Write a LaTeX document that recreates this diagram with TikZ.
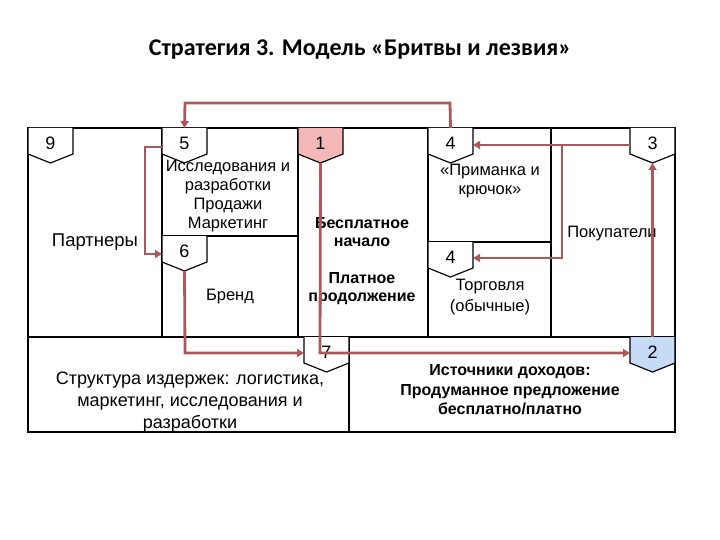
\documentclass[tikz,border=0pt]{standalone}
\usepackage{fontspec}
\setmainfont{Liberation Sans}
\newfontfamily\titlefont{Carlito}
\usetikzlibrary{arrows.meta,calc}
\definecolor{arr}{HTML}{A85A5A}
\definecolor{redb}{HTML}{F4B8B8}
\definecolor{blueb}{HTML}{C6DCF6}
\tikzset{
  frame/.style={draw=black,line width=1.4pt},
  link/.style={draw=arr,line width=2.8pt,-{Triangle[length=7pt,width=8pt]}},
  txt/.style={font=\fontsize{16.5}{19}\selectfont,align=center,inner sep=0pt},
  btxt/.style={font=\bfseries\fontsize{16}{18}\selectfont,align=center,inner sep=0pt},
}
\newcommand{\mybadge}[5]{% name, x, y, fill, label
  \fill[#4] (#2,#3) -- ++(45,0) -- ++(0,26) -- ++(-22.5,9) -- ++(-22.5,-9) -- cycle;
  \draw[line width=1.2pt] (#2,#3) -- ++(0,26) -- ++(22.5,9) -- ++(22.5,-9) -- ++(0,-26);
  \node[font=\fontsize{18}{18}\selectfont,inner sep=0pt] (#1) at ($(#2,#3)+(22.5,15)$) {#5};
  \coordinate (#1-t) at ($(#2,#3)+(22.5,0)$);
  \coordinate (#1-b) at ($(#2,#3)+(22.5,35)$);
  \coordinate (#1-l) at ($(#2,#3)+(0,18)$);
  \coordinate (#1-r) at ($(#2,#3)+(45,18)$);
}
\begin{document}
\begin{tikzpicture}[x=1pt,y=-1pt]
\useasboundingbox (0,0) rectangle (720,540);
\node[font=\titlefont\bfseries\fontsize{24}{24}\selectfont] (title) at (360,50) {Стратегия 3. Модель «Бритвы и лезвия»};
% frame
\draw[frame] (28,128) rectangle (675,432);
\draw[frame] (28,337) -- (675,337);
\draw[frame] (162,128) -- (162,337);
\draw[frame] (298,128) -- (298,337);
\draw[frame] (428,128) -- (428,337);
\draw[frame] (551,128) -- (551,337);
\draw[frame] (162,236) -- (298,236);
\draw[frame] (428,242) -- (551,242);
\draw[frame] (349,337) -- (349,432);
% badges
\mybadge{b9}{28}{128}{white}{9}
\mybadge{b5}{162}{128}{white}{5}
\mybadge{b1}{298}{128}{redb}{1}
\mybadge{b4}{428}{128}{white}{4}
\mybadge{b3}{630}{128}{white}{3}
\mybadge{b6}{162}{236}{white}{6}
\mybadge{b4b}{428}{242}{white}{4}
\mybadge{b7}{304}{337}{white}{7}
\mybadge{b2}{630}{337}{blueb}{2}
% texts
\node[txt,font=\fontsize{18.5}{19}\selectfont] (partners) at (95,242) {Партнеры};
\node[txt] (act) at (228,196) {Исследования и\\разработки\\Продажи\\Маркетинг};
\node[txt] (brand) at (230,297) {Бренд};
\node[btxt] (free) at (362,232) {Бесплатное\\начало};
\node[btxt] (paid) at (362,289) {Платное\\продолжение};
\node[txt] (hook) at (490,181) {«Приманка и\\крючок»};
\node[txt] (cust) at (612,234) {Покупатели};
\node[txt] (trade) at (490,297) {Торговля\\[2pt](обычные)};
\node[font=\fontsize{18}{22}\selectfont,align=center,inner sep=0pt] (cost) at (190,402) {Структура издержек: логистика,\\маркетинг, исследования и\\разработки};
\node[font=\bfseries\fontsize{16}{19.5}\selectfont,align=center,inner sep=0pt] (rev) at (510,390) {Источники доходов:\\Продуманное предложение\\бесплатно/платно};
% connectors
\coordinate (c1) at (450,103);
\coordinate (c2) at (185,103);
\draw[link] (b4-t) -- (c1) -- (c2) -- (b5-t);
\coordinate (c3) at (145,147);
\coordinate (c4) at (145,254);
\draw[link] (b5-l |- c3) -- (c3) -- (c4) -- (b6-l |- c4);
\coordinate (c5) at (185,353);
\draw[link] (b6-b) -- (c5) -- (b7-l |- c5);
\coordinate (c6) at (320,353);
\draw[link] (b1-b) -- (c6) -- (b2-l |- c6);
\draw[link] (b2-t) -- (b3-b);
\coordinate (c7) at (562,145);
\coordinate (c8) at (562,258);
\draw[link] (b3-l |- c7) -- (b4-r |- c7);
\draw[link] (c7) -- (c8) -- (b4b-r |- c8);
\end{tikzpicture}
\end{document}
